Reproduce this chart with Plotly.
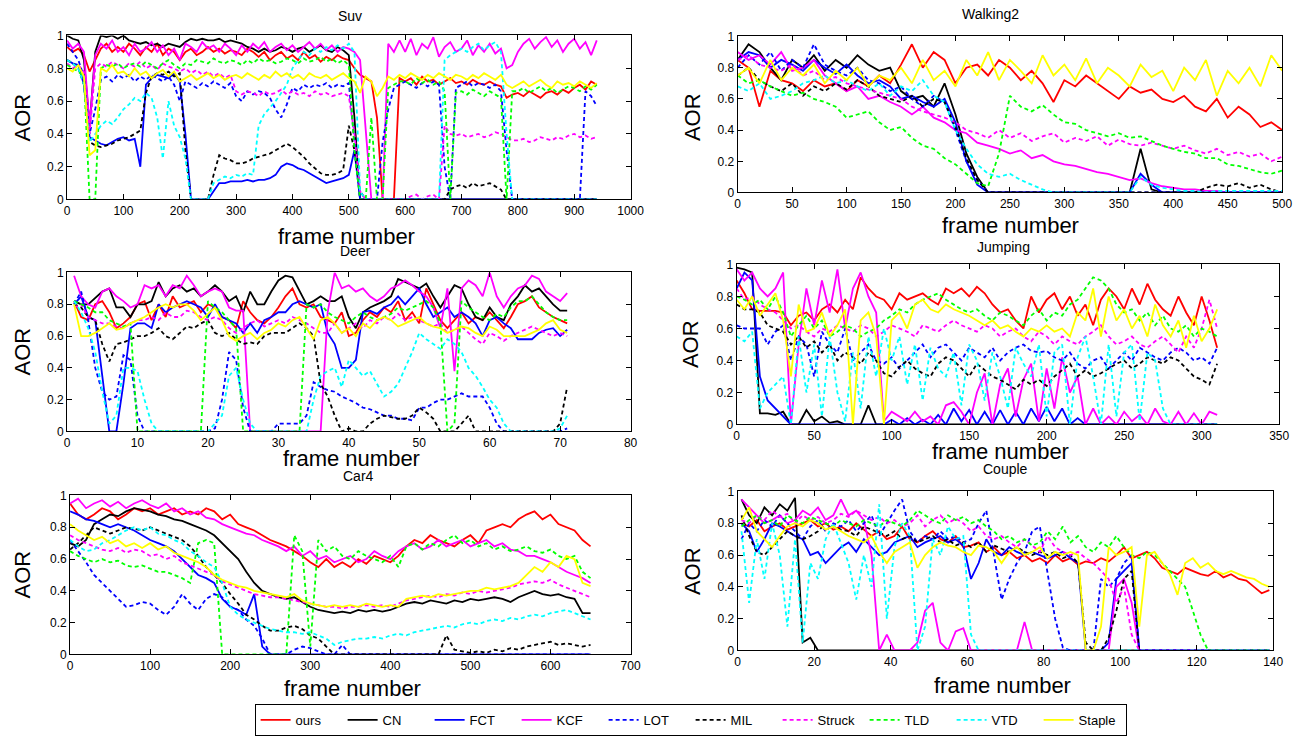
import plotly.graph_objects as go

NAMES = ["ours", "CN", "FCT", "KCF", "LOT", "MIL", "Struck", "TLD", "VTD", "Staple"]
COLORS = ["#FF0000", "#000000", "#0000FF", "#FF00FF", "#0000FF", "#000000", "#FF00FF", "#00FF00", "#00FFFF", "#FFFF00"]
DASHED = [False, False, False, False, True, True, True, True, True, False]

# ---------------- Suv (frames 0..940 step 10) ----------------
SUV_FRAMES = list(range(0, 950, 10))
SUV_OURS = [.93,.90,.92,.88,.78,.85,.92,.95,.90,.93,
            .90,.95,.92,.88,.93,.90,.95,.88,.92,.90,
            .85,.90,.92,.88,.90,.93,.90,.92,.89,.91,
            .90,.88,.92,.90,.87,.90,.85,.88,.90,.86,
            .88,.85,.90,.86,.88,.84,.87,.85,.88,.86,
            .85,.80,.76,.74,.72,.50,0,0,0,.74,
            .72,.74,.70,.75,.72,.73,.70,.72,.74,.71,
            .72,.70,.73,.71,.70,.72,.70,.69,.62,.64,
            .65,.63,.66,.64,.62,.65,.66,.64,.67,.65,
            .68,.70,.67,.72,.70]
SUV_CN = [1.0,.98,.97,.85,.45,.90,1.0,.99,1.0,.98,
          1.0,.97,.96,.95,.96,.94,.95,.93,.95,.94,
          .93,.96,.98,.97,.98,.97,.97,.98,.96,.97,
          .96,.95,.93,.92,.90,.92,.90,.91,.93,.92,
          .90,.92,.93,.90,.92,.94,.91,.90,.93,.91,
          .88,.50,0,0,0,0,0,0,0,0,
          0,0,0,0,0,0,0,0,0,0,
          0,0,0,0,0,0,0,0,0,0,
          0,0,0,0,0,0,0,0,0,0,
          0,0,0,0,0]
SUV_FCT = [.85,.83,.82,.70,.38,.36,.34,.33,.35,.37,
           .38,.36,.37,.20,.70,.74,.76,.75,.74,.77,
           .72,.40,0,0,0,0,.05,.10,.10,.11,
           .11,.11,.12,.11,.12,.12,.13,.15,.20,.22,
           .21,.19,.18,.16,.14,.12,.10,.11,.12,.13,
           .15,.30,0,0,0,0,0,0,0,0,
           0,0,0,0,0,0,0,0,0,0,
           0,0,0,0,0,0,0,0,0,0,
           0,0,0,0,0,0,0,0,0,0,
           0,0,0,0,0]
SUV_KCF = [.97,.92,.95,.90,.45,.88,.95,.92,.97,.90,
           .93,.88,.95,.90,.92,.96,.90,.94,.88,.92,
           .85,.95,.93,.90,.96,.92,.94,.90,.95,.92,
           .88,.94,.90,.95,.92,.96,.90,.93,.95,.91,
           .94,.90,.93,.96,.92,.95,.91,.94,.90,.93,
           .92,.90,.85,.40,0,0,0,.95,.90,.97,
           .90,.98,.88,.95,.92,.99,.87,.93,.96,.90,
           .92,.97,.88,.94,.90,.95,.89,.92,.80,.82,
           .90,.95,.98,.92,.96,.99,.93,.97,.90,.95,
           .98,.92,.96,.88,.97]
SUV_LOT = [.95,.90,.85,.75,.40,.55,.73,.75,.72,.76,
           .74,.76,.72,.75,.73,.76,.74,.72,.75,.70,
           .60,.72,.70,.68,.71,.69,.72,.70,.68,.71,
           .63,.60,.66,.64,.66,.65,.62,.55,.50,.58,
           .68,.66,.70,.68,.70,.69,.71,.68,.70,.69,
           .71,.35,0,0,0,0,.35,.55,.68,.70,
           .72,.70,.68,.71,.69,.72,.70,.20,0,.68,
           .70,.72,.69,.71,.70,.68,.70,.66,.30,0,
           0,0,0,0,0,0,0,0,0,0,
           0,0,.66,.63,.57]
SUV_MIL = [.85,.83,.80,.70,.35,.33,.32,.33,.34,.36,
           .37,.38,.40,.42,.65,.75,.77,.76,.78,.75,
           .77,.30,0,0,0,0,.15,.27,.25,.24,
           .22,.22,.23,.25,.26,.27,.28,.30,.32,.34,
           .32,.29,.26,.22,.19,.16,.15,.15,.16,.18,
           .45,.30,.05,0,0,0,0,0,0,0,
           0,0,0,0,0,0,0,0,.06,.08,
           .09,.07,.10,.08,.09,.10,.08,.06,0,0,
           0,0,0,0,0,0,0,0,0,0,
           0,0,0,0,0]
SUV_STRUCK = [.83,.80,.82,.78,.40,.80,.83,.81,.84,.82,
              .80,.83,.81,.84,.80,.82,.79,.83,.81,.80,
              .78,.80,.77,.79,.76,.78,.75,.77,.74,.76,
              .66,.64,.66,.65,.63,.66,.64,.65,.67,.64,
              .66,.64,.65,.63,.66,.64,.65,.63,.64,.65,
              .63,.40,.05,0,0,0,0,0,0,0,
              0,.02,.03,0,.02,.03,0,.45,.40,.39,
              .40,.38,.39,.40,.38,.39,.41,.40,.38,.36,
              .36,.37,.35,.36,.38,.37,.36,.38,.37,.39,
              .40,.38,.39,.37,.38]
SUV_TLD = [.82,.80,.78,.75,0,0,.80,.82,.81,.83,
           .80,.82,.83,.81,.84,.82,.80,.83,.85,.82,
           .80,.83,.82,.85,.84,.83,.86,.84,.83,.85,
           .84,.82,.85,.83,.86,.84,.85,.83,.84,.86,
           .85,.83,.86,.84,.85,.87,.84,.86,.83,.85,
           .82,.30,0,0,.50,0,0,.68,.70,.72,
           .72,.70,.74,.71,.73,.70,.72,.66,0,.65,
           .66,.64,.67,.65,.63,.66,.64,.62,0,.66,
           .66,.68,.65,.67,.69,.66,.68,.65,.67,.69,
           .68,.66,.69,.67,.70]
SUV_VTD = [.85,.83,.80,.70,.35,.40,.45,.48,.46,.50,
           .55,.58,.62,.60,.65,.62,.50,.25,.60,.45,
           .38,.25,0,0,0,0,.10,.12,.14,.13,
           .15,.14,.16,.15,.45,.52,.56,.60,.65,.70,
           .80,.85,.90,.88,.92,.90,.93,.91,.94,.92,
           .95,.90,.05,0,0,0,0,0,0,0,
           0,0,0,0,0,0,0,.85,.88,.90,
           .92,.90,.93,.95,.91,.94,.96,.90,.40,0,
           0,0,0,0,0,0,0,0,0,0,
           0,0,0,0,0]
SUV_STAPLE = [.80,.78,.82,.75,.27,.30,.80,.78,.82,.77,
              .78,.75,.80,.76,.78,.74,.77,.79,.75,.78,
              .72,.74,.76,.73,.75,.77,.74,.76,.73,.75,
              .76,.74,.77,.75,.73,.76,.74,.78,.75,.77,
              .74,.76,.73,.77,.75,.74,.76,.73,.75,.77,
              .74,.72,.65,.75,.72,.63,.68,.75,.73,.76,
              .74,.77,.75,.73,.76,.74,.77,.75,.73,.76,
              .75,.73,.76,.74,.77,.75,.73,.76,.70,.68,
              .70,.72,.69,.71,.73,.70,.68,.72,.70,.71,
              .69,.72,.70,.68,.71]

# ---------------- Walking2 (frames 0..500 step 10) ----------------
W_FRAMES = list(range(0, 510, 10))
W_OURS = [.85,.80,.55,.78,.72,.70,.65,.72,.68,.70,
          .65,.72,.68,.75,.70,.82,.95,.80,.90,.85,
          .70,.80,.82,.75,.85,.80,.72,.78,.70,.58,
          .72,.68,.75,.70,.65,.60,.68,.64,.66,.60,
          .58,.62,.55,.52,.60,.48,.55,.50,.42,.45,
          .40]
W_CN = [.85,.95,.90,.80,.72,.85,.80,.88,.78,.85,
        .80,.88,.82,.78,.80,.65,.60,.62,.55,.70,
        .50,.25,.10,0,0,0,0,0,0,0,
        0,0,0,0,0,0,0,.28,.02,0,
        0,0,0,0,0,0,0,0,0,0,
        0]
W_FCT = [.85,.90,.88,.80,.85,.82,.78,.85,.80,.76,
         .82,.75,.70,.72,.68,.60,.62,.58,.55,.60,
         .45,.20,.05,0,0,0,0,0,0,0,
         0,0,0,0,0,0,0,.12,.05,0,
         0,0,0,0,0,0,0,0,0,0,
         0]
W_KCF = [.90,.85,.88,.82,.90,.78,.80,.85,.75,.70,
         .65,.68,.60,.62,.58,.55,.50,.55,.48,.45,
         .40,.38,.32,.30,.28,.25,.27,.22,.24,.20,
         .18,.17,.15,.13,.12,.10,.08,.09,.06,.04,
         .03,.02,.02,.01,.01,0,0,0,0,0,
         0]
W_LOT = [.80,.88,.82,.90,.78,.85,.80,.95,.82,.78,
         .75,.80,.72,.70,.65,.68,.60,.55,.62,.58,
         .40,.20,.08,0,0,0,0,0,0,0,
         0,0,0,0,0,0,0,0,0,0,
         0,0,0,0,0,0,0,0,0,0,
         0]
W_MIL = [.75,.80,.72,.68,.65,.70,.62,.68,.65,.70,
         .66,.72,.68,.62,.60,.58,.62,.55,.60,.58,
         .42,.22,.08,0,0,0,0,0,0,0,
         0,0,0,0,0,0,0,0,0,0,
         0,0,0,.03,.05,.04,.06,.03,.05,.02,
         0]
W_STRUCK = [.85,.88,.82,.80,.78,.82,.75,.78,.72,.74,
            .70,.68,.66,.64,.62,.60,.55,.52,.50,.48,
            .45,.40,.38,.35,.40,.35,.38,.33,.36,.38,
            .32,.35,.33,.36,.30,.34,.31,.30,.32,.30,
            .28,.30,.27,.25,.28,.24,.26,.23,.25,.20,
            .23]
W_TLD = [.75,.70,.72,.68,.65,.62,.64,.60,.58,.55,
         .48,.50,.52,.45,.40,.42,.35,.30,.28,.22,
         .18,.12,.06,.04,.25,.62,.55,.52,.56,.50,
         .45,.44,.40,.38,.36,.38,.35,.36,.33,.30,
         .28,.26,.25,.22,.22,.18,.17,.15,.13,.12,
         .14]
W_VTD = [.68,.65,.70,.60,.62,.65,.70,.72,.75,.70,
         .72,.68,.65,.70,.62,.68,.65,.72,.62,.58,
         .40,.28,.18,.12,.10,.12,.08,.05,.02,0,
         0,0,0,0,0,0,0,.10,.05,.03,
         .02,.01,.01,0,.01,.01,.01,.01,.01,.01,
         .01]
W_STAPLE = [.75,.80,.70,.85,.72,.80,.75,.82,.70,.78,
            .72,.80,.68,.75,.72,.80,.70,.85,.72,.78,
            .68,.85,.75,.90,.72,.85,.78,.70,.88,.75,
            .82,.72,.86,.70,.80,.75,.68,.82,.74,.78,
            .65,.80,.72,.85,.62,.78,.70,.80,.68,.88,
            .78]

# ---------------- Deer (frames 1..71) ----------------
D_FRAMES = list(range(1, 72))
D_OURS = [.82,.72,.70,.80,.82,.75,.65,.68,.72,.80,
          .82,.70,.80,.72,.85,.78,.80,.82,.75,.80,
          .78,.72,.70,.65,.82,.75,.70,.68,.72,.78,
          .85,.90,.80,.78,.80,.72,.70,.68,.75,.60,
          .62,.70,.75,.72,.78,.75,.82,.70,.75,.68,
          .90,.80,.70,.65,.70,.75,.68,.72,.70,.75,
          .70,.65,.72,.80,.82,.85,.78,.75,.72,.70,
          .68]
D_CN = [.82,.80,.80,.84,.88,.90,.78,.78,.72,.80,
        .80,.82,.94,.85,.90,.92,.88,.90,.85,.88,
        .92,.88,.82,.85,.75,.88,.80,.80,.88,.95,
        .98,.97,.88,.80,.82,.85,.82,.82,.85,.72,
        .65,.75,.78,.80,.82,.85,.96,.94,.92,.90,
        .93,.85,.78,.85,.92,.90,.80,.72,.70,.78,
        .72,.70,.80,.85,.92,.88,.90,.85,.80,.76,
        .76]
D_FCT = [.80,.85,.72,.70,.35,0,0,.30,.65,.68,
         .68,.65,.80,.75,.78,.80,.82,.80,.78,.72,
         .80,.72,.70,.68,.62,.68,.62,.70,.72,.75,
         .75,.80,.82,.80,.78,.80,.62,.55,.40,.40,
         .45,.75,.76,.74,.78,.80,.85,.80,.85,.90,
         .80,.72,.75,.78,.72,.75,.72,.68,.60,.70,
         .72,.68,.65,.58,.58,.58,.62,.64,.65,.60,
         .64]
D_KCF = [.98,.85,.80,.78,.88,.90,.85,.82,.78,.80,
         .92,.90,.92,.85,.92,.90,.98,.92,.85,.88,
         .90,.88,.78,.76,.76,0,0,0,0,0,
         0,0,0,0,0,0,.75,1.0,.90,.92,
         .88,.90,.85,.82,.85,.90,.92,.95,.92,.88,
         .85,.78,.65,.90,.38,.90,.95,.92,.85,1.0,
         .85,.78,.85,.90,.92,.98,.96,.88,.85,.82,
         .87]
D_LOT = [.80,.88,.70,.40,.25,.20,.22,.48,.45,.10,
         0,0,0,0,0,0,0,0,0,0,
         .02,.20,.50,.45,.15,0,0,0,0,.05,
         .05,.05,.05,.10,.31,.28,.26,.25,.22,.20,
         .18,.15,.14,.12,.10,.10,.08,.08,.07,.15,
         .15,.18,.20,.20,.22,.24,.22,.22,.22,.15,
         .05,0,0,0,0,0,0,0,0,0,
         .02]
D_MIL = [.80,.78,.72,.70,.55,.44,.55,.56,.58,.60,
         .60,.62,.65,.60,.58,.62,.66,.65,.68,.70,
         .62,.60,.62,.58,.55,.56,.55,.60,.62,.62,
         .62,.65,.68,.65,.60,.30,.22,.10,0,.02,
         0,0,.05,.08,.10,.09,.08,.08,.10,.15,
         .12,.08,0,0,0,.05,.10,0,0,0,
         0,0,0,0,0,0,0,0,0,.05,
         .28]
D_STRUCK = [.78,.80,.72,.70,.68,.68,.66,.65,.68,.70,
            .70,.72,.70,.75,.72,.72,.76,.75,.72,.70,
            .72,.70,.65,.62,.65,.68,.70,.66,.68,.70,
            .68,.72,.70,.68,.65,.62,.62,.68,.62,.65,
            .68,.65,.70,.68,.72,.70,.74,.70,.72,.70,
            .68,.66,.68,.62,.64,.66,.62,.58,.55,.62,
            .60,.57,.60,.62,.64,.66,.64,.62,.60,.62,
            .60]
D_TLD = [.82,.80,.78,.75,.75,.70,.68,.66,.68,0,
         0,0,0,0,0,0,0,0,0,.82,
         .78,.75,.70,.65,0,0,0,0,0,0,
         0,0,0,.80,.78,.80,.75,.72,.70,.68,
         .72,.75,.72,.70,.72,.74,.78,.76,.78,.80,
         .82,.78,.68,0,.05,.82,.78,.75,.72,.70,
         .74,.72,.78,.82,.82,.85,.80,.75,.72,.70,
         .70]
D_VTD = [.82,.75,.65,.50,.25,.05,.10,.40,.40,.38,
         .20,.05,0,0,0,0,0,0,0,0,
         .05,.10,.35,.40,.20,.05,0,0,0,0,
         0,0,0,0,.20,.35,.38,.40,.28,.45,
         .40,.35,.38,.30,.22,.25,.30,.40,.50,.62,
         .58,.55,.52,.58,.55,.50,.40,.35,.28,.20,
         .15,.05,0,0,0,0,0,0,0,.02,
         .10]
D_STAPLE = [.80,.60,.60,.62,.65,.68,.64,.65,.68,.70,
            .72,.75,.78,.80,.78,.80,.80,.76,.70,.74,
            .78,.70,.60,.57,.60,.62,.58,.62,.64,.68,
            .66,.70,.72,.65,.58,.70,.72,.68,.62,.65,
            .60,.68,.65,.70,.72,.70,.66,.68,.70,.72,
            .68,.66,.65,.62,.64,.66,.65,.62,.60,.66,
            .64,.60,.60,.60,.60,.62,.64,.68,.70,.64,
            .62]

# ---------------- Jumping (frames 0..310 step 5) ----------------
J_FRAMES = list(range(0, 315, 5))
J_OURS = [.90,.82,.72,.71,.71,.71,.70,.62,.68,.70,
          .65,.72,.75,.70,.78,.72,.92,.85,.80,.78,
          .72,.82,.78,.80,.82,.78,.75,.85,.82,.85,
          .80,.86,.82,.75,.70,.72,.65,.60,.80,.70,
          .78,.82,.72,.80,.68,.75,.62,.78,.85,.80,
          .72,.85,.75,.88,.78,.72,.68,.80,.70,.62,
          .80,.65,.48]
J_CN = [.98,.97,.95,.07,.07,.06,.08,0,0,.09,
        .02,.05,.01,.02,0,0,0,.12,0,0,
        0,0,0,0,0,0,0,0,0,0,
        0,0,0,0,0,0,0,0,0,0,
        0,0,0,0,0,0,0,0,0,0,
        0,0,0,0,0,0,0,0,0,0,
        0,0,0]
J_FCT = [.85,.95,.90,.30,.15,.10,.05,0,0,0,
         0,0,0,0,0,0,0,0,0,0,
         .03,0,.04,0,.03,0,.06,0,.10,.02,
         .09,0,.08,0,.09,0,.08,0,.10,.02,
         .11,.02,.10,0,.04,0,0,0,0,0,
         0,0,0,0,0,0,0,0,0,0,
         0,0,0]
J_KCF = [.97,.90,.95,.85,.80,.85,.95,0,.50,.85,
         .62,.90,.70,.97,.60,.85,.95,.80,.70,.02,
         .08,.05,.02,.08,.02,.05,0,.12,.14,.08,
         0,.20,.32,0,.25,.35,.05,.28,.38,.02,
         .35,.10,.42,.20,.30,0,.10,0,.05,0,
         .08,.02,.06,0,.10,.02,0,.08,0,.07,
         0,.08,.06]
J_LOT = [.62,.60,.60,.60,.50,.58,.62,.40,.55,.50,
         .30,.58,.50,.45,.60,.40,.45,.50,.40,.38,
         .42,.35,.40,.45,.50,.42,.48,.50,.45,.40,
         .48,.45,.42,.48,.40,.45,.48,.50,.46,.45,
         .46,.42,.40,.45,.38,.35,.40,.42,.35,.40,
         .45,.40,.48,.45,.42,.40,.45,.48,.45,.40,
         .42,.38,.48]
J_MIL = [.75,.72,.72,.70,.62,.60,.58,.50,.55,.48,
         .52,.45,.50,.40,.45,.42,.38,.45,.40,.32,
         .30,.36,.40,.35,.32,.30,.38,.42,.40,.35,
         .30,.38,.34,.30,.28,.25,.22,.28,.25,.28,
         .24,.30,.34,.38,.30,.34,.30,.32,.35,.38,
         .40,.35,.38,.42,.40,.38,.42,.40,.35,.30,
         .28,.25,.38]
J_STRUCK = [.85,.78,.80,.75,.72,.70,.65,.60,.62,.58,
            .55,.60,.58,.62,.60,.58,.62,.60,.55,.58,
            .62,.60,.58,.55,.62,.60,.58,.62,.65,.62,
            .60,.58,.62,.60,.55,.58,.60,.55,.52,.58,
            .55,.50,.55,.52,.50,.55,.58,.62,.55,.50,
            .52,.55,.50,.48,.52,.55,.50,.45,.55,.48,
            .60,.78,.60]
J_TLD = [.80,.78,.75,.78,.72,.80,.70,.55,.62,.68,
         .60,.65,.55,.58,.62,.60,.55,.58,.60,.65,
         .68,.72,.70,.75,.78,.80,.82,.78,.75,.72,
         .70,.72,.68,.65,.70,.68,.65,.62,.68,.72,
         .65,.70,.68,.75,.78,.85,.92,.90,.85,.75,
         .70,.72,.65,.70,.62,.68,.60,.58,.62,.55,
         .60,.58,.55]
J_VTD = [.55,.52,.58,.10,.20,.25,.30,0,.55,.20,
         .50,.05,.55,.20,.02,.45,.10,.55,.30,.60,
         .40,.55,.25,.50,.15,.48,.35,.30,.45,.12,
         .50,.40,.15,.45,.30,.10,.48,.38,.30,.50,
         .05,.45,.50,0,.42,.55,.30,0,.50,.05,
         .45,.50,.02,.45,.40,.10,0,0,0,0,
         0,0,0]
J_STAPLE = [.78,.72,.80,.68,.75,.82,.65,.30,.75,.58,
            .60,.70,.55,.62,.72,0,.65,.70,.55,0,
            .65,.70,.60,.75,.78,.72,.70,.75,.72,.70,
            .68,.65,.62,.65,.60,.62,.58,.55,.60,.58,
            .62,.58,.60,.55,.70,.65,.85,.55,.80,.65,
            .72,.60,.68,.55,.75,.62,.55,.65,.48,.68,
            .52,.60,.72]

# ---------------- Car4 (frames 0..650 step 10) ----------------
C_FRAMES = list(range(0, 660, 10))
C_OURS = [.95,.88,.85,.88,.92,.90,.85,.88,.92,.90,
          .92,.88,.90,.92,.88,.90,.88,.92,.90,.85,
          .88,.82,.80,.78,.75,.72,.70,.68,.65,.62,
          .58,.55,.60,.55,.58,.55,.60,.57,.62,.60,
          .58,.62,.68,.72,.70,.75,.72,.70,.68,.72,
          .75,.70,.78,.80,.82,.80,.85,.88,.90,.85,
          .88,.82,.80,.78,.72,.68]
C_CN = [.70,.68,.72,.82,.85,.88,.87,.90,.92,.91,
        .90,.88,.87,.85,.84,.82,.80,.78,.75,.70,
        .65,.60,.52,.45,.40,.38,.36,.35,.36,.33,
        .30,.28,.27,.26,.27,.26,.28,.27,.28,.27,
        .28,.30,.32,.33,.32,.34,.33,.32,.34,.33,
        .35,.34,.35,.36,.35,.33,.36,.38,.40,.38,
        .37,.38,.36,.35,.26,.26]
C_FCT = [.90,.88,.85,.84,.82,.80,.82,.80,.78,.75,
         .72,.70,.68,.65,.60,.55,.50,.48,.45,.35,
         .30,.28,.25,.38,.05,0,0,0,0,0,
         0,0,0,0,0,0,0,0,0,0,
         0,0,0,0,0,0,0,0,0,0,
         0,0,0,0,0,0,0,0,0,0,
         0,0,0,0,0,0]
C_KCF = [.95,.98,.92,.95,.97,.93,.96,.92,.95,.97,
         .94,.92,.95,.90,.92,.88,.90,.86,.85,.82,
         .80,.78,.76,.75,.72,.70,.68,.65,.68,.62,
         .65,.60,.62,.58,.60,.62,.58,.60,.65,.62,
         .60,.65,.68,.70,.66,.68,.72,.68,.70,.72,
         .68,.70,.72,.68,.70,.66,.65,.62,.62,.60,
         .58,.55,.52,.50,.48,.45]
C_LOT = [.72,.65,.58,.50,.45,.40,.35,.30,.31,.33,
         .32,.28,.25,.30,.38,.32,.28,.35,.38,.36,
         .30,.28,.22,.18,.10,0,0,0,.03,.05,
         .04,.02,0,0,.06,0,0,0,0,0,
         0,0,0,0,0,0,0,0,0,0,
         0,0,0,0,0,0,0,0,0,0,
         0,0,0,0,0,0]
C_MIL = [.66,.70,.75,.80,.78,.76,.78,.80,.79,.78,
         .80,.78,.76,.74,.72,.68,.62,.55,.50,.45,
         .38,.32,.25,.22,.18,.15,.15,.17,.18,.16,
         .12,.10,.05,0,0,0,0,0,0,0,
         0,0,0,0,0,0,0,.12,.03,.02,
         .01,.02,.01,.03,.02,.04,.03,.05,.06,.07,
         .08,.06,.07,.06,.05,.06]
C_STRUCK = [.75,.72,.70,.68,.66,.65,.67,.64,.66,.65,
            .62,.63,.60,.62,.58,.56,.54,.52,.50,.46,
            .44,.42,.40,.38,.37,.36,.36,.35,.34,.33,
            .32,.31,.30,.30,.29,.30,.30,.31,.30,.31,
            .30,.32,.34,.35,.36,.37,.36,.38,.37,.39,
            .38,.40,.39,.40,.41,.42,.44,.45,.46,.45,
            .47,.44,.42,.40,.38,.36]
C_TLD = [.65,.62,.60,.58,.60,.58,.59,.56,.55,.56,
         .54,.52,.52,.50,.48,.45,.70,.72,.70,0,
         0,0,0,0,0,0,0,0,.75,.65,
         .05,.72,.65,.68,.62,.60,.65,.62,.60,.58,
         .62,.55,.68,.70,.66,.70,.68,.72,.75,.70,
         .72,.68,.70,.66,.68,.65,.66,.68,.65,.64,
         .66,.62,.60,.62,.52,.48]
C_VTD = [.72,.68,.65,.66,.70,.72,.75,.78,.80,.78,
         .80,.76,.75,.72,.70,.65,.62,.58,.55,.45,
         .30,.25,.22,.20,.18,.16,.15,.14,.14,.13,
         .14,.12,.10,.06,.08,.09,.10,.10,.11,.10,
         .12,.13,.12,.14,.15,.16,.17,.18,.17,.19,
         .20,.19,.21,.22,.21,.23,.22,.24,.25,.24,
         .26,.27,.28,.26,.24,.22]
C_STAPLE = [.82,.78,.75,.72,.74,.70,.72,.68,.70,.67,
            .70,.66,.68,.64,.62,.60,.58,.55,.50,.47,
            .45,.43,.42,.40,.39,.38,.37,.36,.38,.34,
            .32,.31,.30,.31,.30,.31,.30,.32,.31,.30,
            .31,.30,.35,.36,.37,.36,.38,.37,.38,.39,
            .40,.40,.42,.41,.42,.43,.45,.50,.55,.52,
            .58,.55,.62,.60,.45,.43]

# ---------------- Couple (frames 1..139 step 2) ----------------
P_FRAMES = list(range(1, 141, 2))
P_OURS = [.80,.78,.82,.75,.78,.80,.76,.78,.80,.82,
          .78,.80,.76,.78,.75,.80,.76,.72,.75,.70,
          .72,.78,.70,.68,.72,.75,.70,.68,.72,.65,
          .66,.68,.62,.65,.60,.62,.58,.60,.56,.58,
          .55,.60,.56,.58,.54,.56,.55,.58,.56,.60,
          .65,.58,.60,.62,.58,.52,.50,.48,.52,.50,
          .48,.47,.50,.46,.48,.45,.44,.40,.36,.38]
P_CN = [.95,.85,.80,.90,.85,.92,.88,.96,.05,.08,
        0,0,0,0,0,0,0,0,0,0,
        0,0,0,0,0,0,0,0,0,0,
        0,0,0,0,0,0,0,0,0,0,
        0,0,0,0,0,0,0,0,0,0,
        0,0,0,0,0,0,0,0,0,0,
        0,0,0,0,0,0,0,0,0,0]
P_FCT = [.80,.75,.62,.70,.80,.78,.75,.72,.70,.60,
         .62,.55,.60,.65,.68,.62,.70,.65,.60,.62,
         .68,.70,.72,.65,.68,.70,.72,.68,.70,.66,
         .45,.55,.70,.62,.60,.65,.62,.60,.62,.60,
         .58,.60,.62,.58,.55,0,0,0,.05,.45,
         .50,.55,0,0,0,0,0,0,0,0,
         0,0,0,0,0,0,0,0,0,0]
P_KCF = [.95,.90,.85,.80,.82,.85,.80,.82,.88,.85,
         .90,.82,.85,.95,.85,.88,.82,.60,0,.10,
         0,0,0,.05,.25,.30,.05,0,.12,.14,
         0,0,0,0,0,0,0,.18,0,0,
         0,0,0,0,0,0,0,0,0,.40,
         .45,.30,0,0,0,0,0,0,0,0,
         0,0,0,0,0,0,0,0,0,0]
P_LOT = [.70,.80,.75,.82,.78,.85,.80,.75,.70,.78,
         .82,.75,.80,.78,.82,.75,.80,.85,.72,.80,
         .88,.95,.75,.68,.72,.70,.75,.70,.72,.68,
         .70,.80,.88,.60,.32,.45,.55,.62,.75,.78,
         .50,.20,.02,0,0,0,0,.45,.40,.45,
         .55,.60,0,0,0,0,0,0,0,0,
         0,0,0,0,0,0,0,0,0,0]
P_MIL = [.85,.72,.62,.60,.65,.70,.75,.72,.70,.72,
         .75,.80,.78,.76,.75,.72,.78,.76,.74,.72,
         .75,.70,.72,.68,.70,.72,.68,.70,.66,.68,
         .65,.68,.62,.66,.64,.62,.65,.62,.60,.62,
         .60,.62,.58,.60,.55,.05,0,0,.08,.25,
         .45,.50,0,0,0,0,0,0,0,0,
         0,0,0,0,0,0,0,0,0,0]
P_STRUCK = [.82,.80,.85,.82,.88,.84,.86,.80,.85,.82,
            .84,.80,.82,.86,.84,.88,.85,.82,.84,.80,
            .82,.78,.80,.85,.78,.82,.85,.80,.83,.80,
            .75,.78,.72,.70,.72,.68,.65,.70,.66,.62,
            .72,.65,.62,.60,.62,.58,.55,.50,.45,.30,
            .40,.10,0,0,0,0,0,0,0,0,
            0,0,0,0,0,0,0,0,0,0]
P_TLD = [.78,.82,.85,.80,.82,.78,.85,.82,.80,.84,
         .82,.80,.78,.82,.80,.78,.82,.80,.78,.82,
         .80,.78,.82,.88,.85,.82,.80,.85,.82,.84,
         .80,.82,.78,.75,.70,.72,.68,.70,.66,.68,
         .75,.70,.78,.68,.72,.65,.62,.68,.65,.72,
         .65,.60,.58,.62,.60,.55,.50,.45,.40,.25,
         .10,0,0,0,0,0,0,0,0,0]
P_VTD = [.75,.30,.70,.45,.80,.60,.15,.70,.05,.55,
         .45,.70,.80,.68,.55,.32,.60,.40,.92,.20,
         .65,.80,.72,0,.15,.70,.60,.78,.70,.72,
         .10,0,0,0,0,0,0,0,0,0,
         0,0,0,0,0,0,0,0,0,0,
         0,0,0,0,0,0,0,0,0,0,
         0,0,0,0,0,0,0,0,0,0]
P_STAPLE = [.82,.90,.75,.70,.65,.72,.78,.80,.78,.82,
            .80,.76,.78,.75,.72,.70,.68,.72,.62,.55,
            .62,.65,.68,.52,.60,.65,.68,.66,.65,.62,
            .60,.66,.65,.62,.55,.62,.65,.60,.62,.65,
            .58,.62,.60,.62,.60,0,0,.15,.65,.60,
            .62,.65,.15,.60,.62,.55,.48,.35,.55,.58,
            .52,.55,.50,.48,.50,.48,.46,.45,.42,.40]

W, H = 1297, 736

# Positions below are measured on the reference picture; these helpers turn them
# into figure pixels (small correction for how the page is photographed).
def fx(p):
    return (p - 3.0) / 0.986

def fy(p):
    return (p - 7.5) / 0.981

def px_x(p):
    return min(max(fx(p) / W, 0.0), 1.0)

def px_y(p):
    return min(max(1 - fy(p) / H, 0.0), 1.0)

# title, frames, series, xmax, dtick, box(l, r, t, b), title pos, xlabel pos, ylabel pos
PANELS = [
    ("Suv", SUV_FRAMES, [SUV_OURS, SUV_CN, SUV_FCT, SUV_KCF, SUV_LOT, SUV_MIL, SUV_STRUCK, SUV_TLD, SUV_VTD, SUV_STAPLE],
     1000, 100, (67, 630, 36, 200), (350, 17), (346, 237), (22, 118)),
    ("Walking2", W_FRAMES, [W_OURS, W_CN, W_FCT, W_KCF, W_LOT, W_MIL, W_STRUCK, W_TLD, W_VTD, W_STAPLE],
     500, 50, (737, 1281, 37, 193), (990, 15), (1010, 226), (692, 118)),
    ("Deer", D_FRAMES, [D_OURS, D_CN, D_FCT, D_KCF, D_LOT, D_MIL, D_STRUCK, D_TLD, D_VTD, D_STAPLE],
     80, 10, (67, 630, 273, 432), (355, 252), (351, 459), (22, 352)),
    ("Jumping", J_FRAMES, [J_OURS, J_CN, J_FCT, J_KCF, J_LOT, J_MIL, J_STRUCK, J_TLD, J_VTD, J_STAPLE],
     350, 50, (736, 1278, 265, 425), (1003, 248), (1000, 452), (690, 345)),
    ("Car4", C_FRAMES, [C_OURS, C_CN, C_FCT, C_KCF, C_LOT, C_MIL, C_STRUCK, C_TLD, C_VTD, C_STAPLE],
     700, 100, (70, 630, 496, 655), (358, 477), (352, 689), (22, 575)),
    ("Couple", P_FRAMES, [P_OURS, P_CN, P_FCT, P_KCF, P_LOT, P_MIL, P_STRUCK, P_TLD, P_VTD, P_STAPLE],
     140, 20, (737, 1272, 492, 651), (1005, 470), (1002, 686), (692, 572)),
]

FONT = "Liberation Sans, Arial, Helvetica, sans-serif"
fig = go.Figure()
layout = {}
annotations = []

for k, (title, frames, series, xmax, dtick, box, tpos, xlpos, ylpos) in enumerate(PANELS):
    sfx = "" if k == 0 else str(k + 1)
    xa, ya = "x" + sfx, "y" + sfx
    for s, vals in enumerate(series):
        n = min(len(frames), len(vals))
        fig.add_trace(go.Scatter(
            x=frames[:n], y=vals[:n], mode="lines", name=NAMES[s],
            line=dict(color=COLORS[s], width=1.8, dash="4px,3px" if DASHED[s] else "solid"),
            showlegend=(k == 0), xaxis=xa, yaxis=ya, hoverinfo="skip"))
    left, right, top, bottom = box
    axis_common = dict(ticks="inside", ticklen=5, tickwidth=1, tickcolor="black",
                       mirror="allticks", showline=True, linecolor="black", linewidth=1,
                       showgrid=False, zeroline=False,
                       tickfont=dict(family=FONT, size=12, color="black"))
    layout["xaxis" + sfx] = dict(domain=[px_x(left), px_x(right)], anchor=ya,
                                 range=[0, xmax], tick0=0, dtick=dtick, **axis_common)
    layout["yaxis" + sfx] = dict(domain=[px_y(bottom), px_y(top)], anchor=xa,
                                 range=[0, 1], tick0=0, dtick=0.2, **axis_common)
    annotations.append(dict(text=title, x=px_x(tpos[0]), y=px_y(tpos[1]), xref="paper", yref="paper",
                            showarrow=False, xanchor="center", yanchor="middle",
                            font=dict(family=FONT, size=14, color="black")))
    annotations.append(dict(text="frame number", x=px_x(xlpos[0]), y=px_y(xlpos[1]), xref="paper", yref="paper",
                            showarrow=False, xanchor="center", yanchor="middle",
                            font=dict(family=FONT, size=22, color="black")))
    annotations.append(dict(text="AOR", x=px_x(ylpos[0]), y=px_y(ylpos[1]), xref="paper", yref="paper",
                            showarrow=False, xanchor="center", yanchor="middle", textangle=-90,
                            font=dict(family=FONT, size=22, color="black")))

fig.update_layout(
    width=W, height=H,
    margin=dict(l=0, r=0, t=0, b=0),
    paper_bgcolor="white", plot_bgcolor="white",
    annotations=annotations,
    legend=dict(orientation="h", x=px_x(690), y=1 - 711 / H, xanchor="center", yanchor="top",
                bordercolor="black", borderwidth=1, bgcolor="white",
                font=dict(family=FONT, size=13, color="black"),
                entrywidth=42, entrywidthmode="pixels", tracegroupgap=0),
    **layout,
)

fig.write_html("out.html", config={"displayModeBar": False},
               post_script="document.body.style.margin='0';document.body.style.overflow='hidden';")
